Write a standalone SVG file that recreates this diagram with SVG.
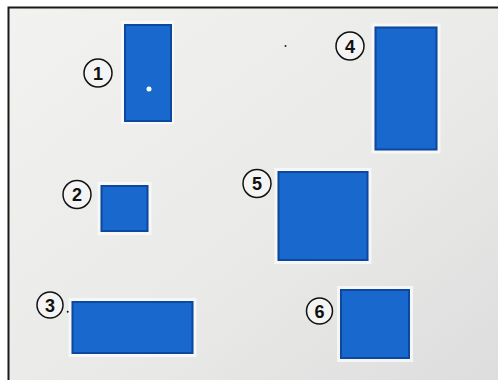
<svg xmlns="http://www.w3.org/2000/svg" width="498" height="380" viewBox="0 0 498 380">
<defs>
<linearGradient id="bg" x1="0" y1="0" x2="1" y2="1">
<stop offset="0" stop-color="#f2f2f1"/>
<stop offset="0.6" stop-color="#e9e9e8"/>
<stop offset="1" stop-color="#dcdddc"/>
</linearGradient>
<style>
.box{fill:#1868cd;stroke:#0c47a0;stroke-width:2}
.halo{fill:none;stroke:#fafafa;stroke-width:3;opacity:0.8}
.c{fill:#f4f4f4;stroke:#111;stroke-width:1.5}
.n{font-family:"Liberation Sans",Arial,sans-serif;font-weight:bold;font-size:18px;fill:#111;text-anchor:middle}
</style>
</defs>
<rect x="0" y="0" width="498" height="380" fill="#ffffff"/>
<rect x="8" y="8" width="490" height="372" fill="url(#bg)"/>
<path d="M8.5 380 V7.5 H498" fill="none" stroke="#1a1a1a" stroke-width="2"/>
<g id="n1">
<rect class="halo" x="122.5" y="22.5" width="50" height="100"/>
<rect class="box" x="125" y="25" width="46" height="96"/>
<circle cx="149" cy="89" r="2.5" fill="#ffffff"/>
<circle class="c" cx="98" cy="73" r="14"/>
<text class="n" x="98" y="79.5">1</text>
</g>
<g id="n2">
<rect class="halo" x="99" y="183.5" width="51" height="50"/>
<rect class="box" x="101.5" y="186" width="46" height="45"/>
<circle class="c" cx="77" cy="194.5" r="14"/>
<text class="n" x="77" y="201">2</text>
</g>
<g id="n3">
<rect class="halo" x="70" y="299.5" width="125" height="56"/>
<rect class="box" x="72.5" y="302" width="120" height="51"/>
<circle class="c" cx="50" cy="305" r="13" stroke="#333"/>
<text class="n" x="50" y="311.5" fill="#1c2a55">3</text>
<circle cx="67.7" cy="311.7" r="1" fill="#111"/>
</g>
<g id="n4">
<rect class="halo" x="373" y="25" width="66" height="127"/>
<rect class="box" x="375.5" y="27.5" width="61" height="122"/>
<circle class="c" cx="350" cy="46" r="14"/>
<text class="n" x="350" y="52.5">4</text>
</g>
<g id="n5">
<rect class="halo" x="276" y="169.5" width="94" height="93"/>
<rect class="box" x="278.5" y="172" width="89" height="88"/>
<circle class="c" cx="257" cy="183.5" r="14"/>
<text class="n" x="257" y="190">5</text>
</g>
<g id="n6">
<rect class="halo" x="338.5" y="287.5" width="73" height="73"/>
<rect class="box" x="341" y="290" width="68" height="68"/>
<circle class="c" cx="319.5" cy="311" r="13" stroke="#555"/>
<text class="n" x="319.5" y="317.5" fill="#24335c">6</text>
</g>
<g id="connectors"></g>
<circle cx="285.5" cy="46" r="1" fill="#222"/>
</svg>
